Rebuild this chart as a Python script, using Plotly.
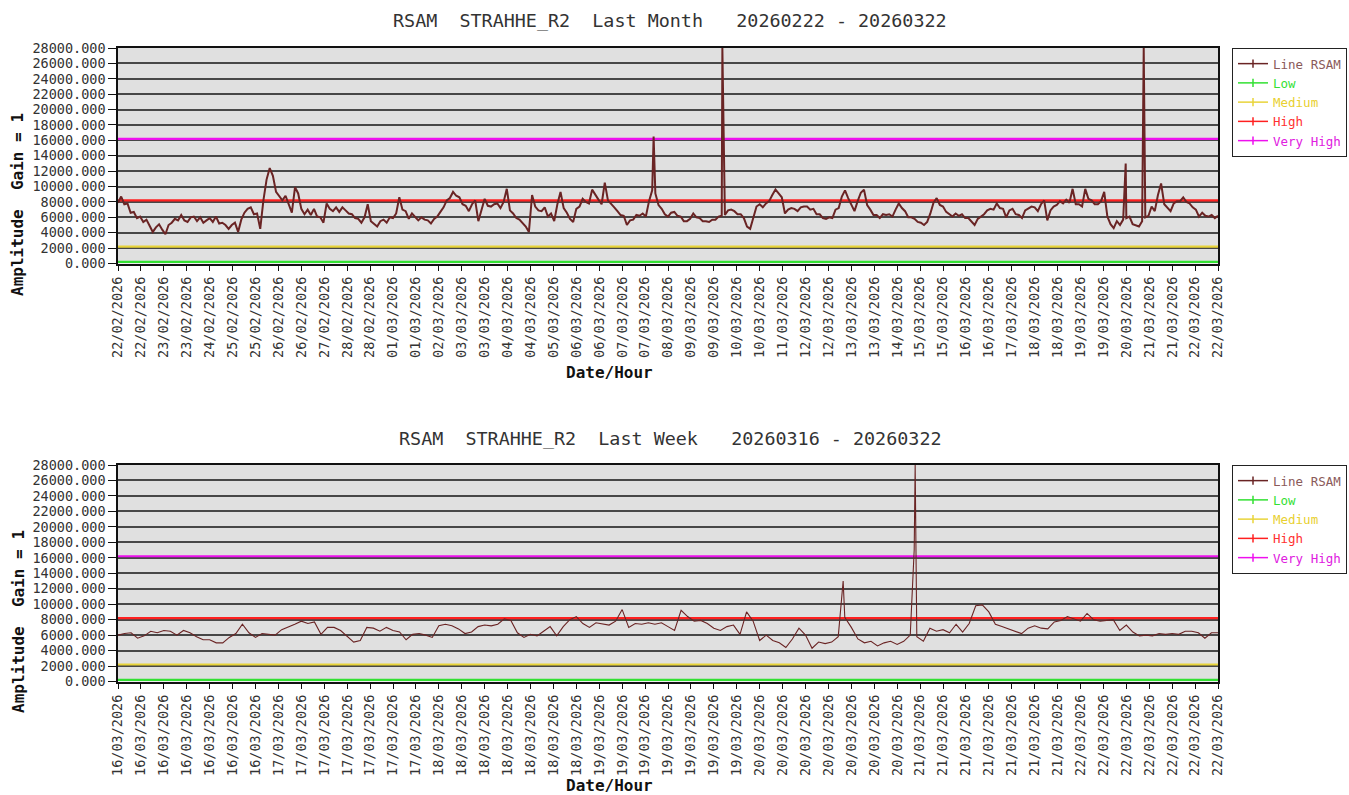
import plotly.graph_objects as go

W, H = 1349, 795

# ---------------- data ----------------
TOP_TITLE = "RSAM  STRAHHE_R2  Last Month   20260222 - 20260322"
BOTTOM_TITLE = "RSAM  STRAHHE_R2  Last Week   20260316 - 20260322"

# Last month: one value every 2 hours from 22/02/2026 00:00 (hours 0..696)
TOP_STEP_H = 2
TOP_RSAM = [
    7900, 8700, 7700, 7800, 6600, 6700, 5900, 6100, 5400, 5700, 4900, 4100,
    4700, 5100, 4400, 3800, 5000, 5300, 5800, 5600, 6300, 5600, 5400, 6000,
    6100, 5500, 6000, 5300, 5600, 5900, 5400, 6100, 5200, 5300, 5000, 4500,
    5000, 5300, 4100, 5700, 6600, 7100, 7300, 6400, 6500, 4500, 8200, 10900,
    12400, 11400, 9300, 8700, 8200, 8800, 7700, 6600, 9900, 9100, 7100, 6400,
    7000, 6300, 7100, 6100, 6000, 5300, 7800, 7100, 6800, 7300, 6700, 7300,
    6900, 6500, 6400, 5900, 5800, 5300, 6000, 7700, 5500, 5100, 4800, 5500,
    5700, 5300, 6000, 5900, 6500, 8600, 7000, 6800, 5800, 6500, 6100, 5600,
    6000, 5700, 5600, 5200, 5800, 6100, 6700, 7300, 8200, 8500, 9300, 8800,
    8600, 7700, 7500, 6800, 7700, 8200, 5500, 6900, 8400, 7500, 7400, 7700,
    7800, 7200, 8000, 9700, 6900, 6500, 5900, 5700, 5300, 4800, 4100, 8900,
    7400, 6900, 6800, 7300, 6100, 6500, 5500, 7700, 9300, 7200, 6600, 5800,
    5400, 7100, 7400, 8400, 8000, 7800, 9600, 8900, 8300, 7700, 10500, 8200,
    7800, 7300, 6800, 6300, 6200, 5000, 5600, 5700, 6300, 6200, 6500, 6100,
    8100, 9500, 9100, 7600, 7100, 6400, 6100, 6600, 6700, 6200, 6100, 5500,
    5500, 5800, 6500, 6000, 5900, 5500, 5500, 5400, 5700, 5700, 6100, 6200,
    6300, 6900, 7000, 6800, 6400, 6400, 5900, 4800, 4500, 5900, 7400, 7700,
    7300, 7800, 8100, 8900, 9600, 9100, 8600, 6500, 7000, 7200, 7100, 6800,
    7300, 7400, 7400, 7000, 7100, 6400, 6400, 5900, 5800, 6000, 5900, 7000,
    7200, 8700, 9500, 8500, 7600, 6800, 8100, 9200, 9600, 7600, 7000, 6300,
    6300, 5900, 6400, 6300, 6400, 6100, 7000, 7800, 7200, 6800, 6000, 6000,
    5800, 5400, 5300, 5000, 5400, 6500, 7900, 8500, 7600, 7400, 6700, 6400,
    6100, 6500, 6200, 6400, 5900, 5900, 5400, 5000, 5800, 6100, 6400, 6900,
    7100, 7000, 7800, 7200, 7100, 6000, 6900, 7100, 6400, 6300, 5900, 6900,
    7200, 7400, 7300, 6800, 7700, 8200, 5600, 6900, 7400, 7600, 8100, 7800,
    8300, 7900, 9700, 7700, 7700, 7400, 9700, 8400, 8200, 7700, 7700, 8100,
    9300, 6100, 5100, 4600, 5500, 5000, 5700, 5900, 6100, 5100, 5000, 4800,
    5500, 6000, 6200, 7400, 6800, 8900, 10400, 7700, 7300, 6800, 7800, 8100,
    8100, 8600, 8000, 7800, 7300, 7000, 6100, 6600, 6200, 6100, 6300, 5900, 6200,
]
# short spikes (hour since start, value)
TOP_SPIKE_HOURS = [338.9, 382.4, 637.6, 649.0]
TOP_SPIKE_VALUES = [16500, 28000, 13000, 28000]

# Last week: one value every hour from 16/03/2026 00:00 (hours 0..168)
BOTTOM_STEP_H = 1
BOTTOM_RSAM = [
    6000, 6200, 6300, 5600, 5900, 6500, 6300, 6600, 6500, 6000, 6600, 6300,
    5800, 5400, 5400, 5000, 5000, 5700, 6200, 7400, 6300, 5700, 6200, 6100,
    6000, 6700, 7000, 7400, 7800, 7500, 7700, 6100, 7000, 7000, 6600, 5900,
    5100, 5300, 7000, 6900, 6500, 7000, 6600, 6400, 5400, 6100, 6200, 6000,
    5700, 7200, 7400, 7200, 6800, 6200, 6400, 7100, 7300, 7200, 7400, 8100,
    7900, 6300, 5700, 6100, 5900, 6500, 7100, 5900, 7100, 8000, 8400, 7500,
    7000, 7600, 7400, 7300, 7800, 9300, 7000, 7500, 7400, 7600, 7400, 7600,
    7100, 6600, 9200, 8400, 7800, 7900, 7500, 6900, 6600, 7100, 7300, 6100,
    9000, 7800, 5300, 6000, 5300, 5000, 4400, 5500, 6900, 6000, 4300, 5100,
    4900, 5100, 5800, 8300, 7000, 5500, 5000, 5200, 4600, 5000, 5200, 4800,
    5200, 6000, 5800, 5200, 6900, 6500, 6700, 6300, 7400, 6400, 7500, 9800,
    9900, 9000, 7400, 7100, 6800, 6500, 6200, 6900, 7200, 6900, 6800, 7700,
    7900, 8400, 8100, 7800, 8800, 8000, 7800, 7900, 8000, 6600, 7300, 6400,
    5900, 6000, 5900, 6200, 6100, 6200, 6100, 6500, 6500, 6300, 5600, 6300, 6300,
]
BOTTOM_SPIKE_HOURS = [110.75, 121.6, 121.75, 121.9]
BOTTOM_SPIKE_VALUES = [13000, 17000, 28000, 17000]

THRESHOLD_NAMES = ["Low", "Medium", "High", "Very High"]
THRESHOLD_VALUES = [200, 2200, 8200, 16200]
THRESHOLD_COLORS = ["#33e033", "#e8d43a", "#ff2020", "#ee10ee"]
THRESHOLD_TEXT_COLORS = ["#33e033", "#e8d030", "#ff3030", "#e020e0"]
RSAM_NAME = "Line RSAM"
RSAM_COLOR = "#6a2424"
RSAM_TEXT_COLOR = "#8a5a5a"

TOP_SPAN_H = 696
BOTTOM_SPAN_H = 168
TOP_TICK_LABELS = [
    "22/02/2026", "22/02/2026", "23/02/2026", "23/02/2026", "24/02/2026",
    "25/02/2026", "25/02/2026", "26/02/2026", "26/02/2026", "27/02/2026",
    "28/02/2026", "28/02/2026", "01/03/2026", "01/03/2026", "02/03/2026",
    "03/03/2026", "03/03/2026", "04/03/2026", "04/03/2026", "05/03/2026",
    "06/03/2026", "06/03/2026", "07/03/2026", "07/03/2026", "08/03/2026",
    "09/03/2026", "09/03/2026", "10/03/2026", "10/03/2026", "11/03/2026",
    "12/03/2026", "12/03/2026", "13/03/2026", "13/03/2026", "14/03/2026",
    "15/03/2026", "15/03/2026", "16/03/2026", "16/03/2026", "17/03/2026",
    "18/03/2026", "18/03/2026", "19/03/2026", "19/03/2026", "20/03/2026",
    "21/03/2026", "21/03/2026", "22/03/2026", "22/03/2026",
]
BOTTOM_TICK_LABELS = (
    ["16/03/2026"] * 7 + ["17/03/2026"] * 7 + ["18/03/2026"] * 7 +
    ["19/03/2026"] * 7 + ["20/03/2026"] * 7 + ["21/03/2026"] * 7 +
    ["22/03/2026"] * 7
)
Y_TICKS = list(range(0, 28001, 2000))

# ---------------- helpers ----------------
MONO = "DejaVu Sans Mono"


def merged_series(step, values, spike_h, spike_v):
    pts = [(i * step, v) for i, v in enumerate(values)]
    pts += list(zip(spike_h, spike_v))
    pts.sort(key=lambda p: p[0])
    return [p[0] for p in pts], [p[1] for p in pts]


def px_x(px):
    return px / W


def px_y(py):
    return 1 - py / H


PLOT_L, PLOT_R = 118, 1218
PANELS = [
    dict(top=48, bottom=263.5, span=TOP_SPAN_H, labels=TOP_TICK_LABELS,
         step=TOP_STEP_H, values=TOP_RSAM, sh=TOP_SPIKE_HOURS, sv=TOP_SPIKE_VALUES,
         title=TOP_TITLE, lw=2.0, xt=372),
    dict(top=465, bottom=681.5, span=BOTTOM_SPAN_H, labels=BOTTOM_TICK_LABELS,
         step=BOTTOM_STEP_H, values=BOTTOM_RSAM, sh=BOTTOM_SPIKE_HOURS,
         sv=BOTTOM_SPIKE_VALUES, title=BOTTOM_TITLE, lw=1.1, xt=785),
]

fig = go.Figure()
annotations = []
layout = {}

for k, p in enumerate(PANELS):
    sfx = "" if k == 0 else str(k + 1)
    xa, ya = "x" + sfx, "y" + sfx
    leg = "legend" + sfx

    # threshold lines
    for name, val, col in zip(THRESHOLD_NAMES, THRESHOLD_VALUES, THRESHOLD_COLORS):
        fig.add_trace(go.Scatter(
            x=[0, p["span"]], y=[val, val], mode="lines",
            line=dict(color=col, width=2.2), showlegend=False,
            xaxis=xa, yaxis=ya, hoverinfo="skip"))

    # RSAM
    hx, hy = merged_series(p["step"], p["values"], p["sh"], p["sv"])
    fig.add_trace(go.Scatter(
        x=hx, y=hy, mode="lines", line=dict(color=RSAM_COLOR, width=p["lw"]),
        showlegend=False, xaxis=xa, yaxis=ya, name=RSAM_NAME))

    # legend entries
    leg_items = [(RSAM_NAME, RSAM_COLOR, RSAM_TEXT_COLOR)] + list(
        zip(THRESHOLD_NAMES, THRESHOLD_COLORS, THRESHOLD_TEXT_COLORS))
    for name, col, tcol in leg_items:
        fig.add_trace(go.Scatter(
            x=[None], y=[None], mode="lines+markers",
            line=dict(color=col, width=1.5),
            marker=dict(symbol="line-ns-open", size=6, color=col,
                        line=dict(color=col, width=1.5)),
            name=f"<span style='color:{tcol}'>{name}</span>",
            xaxis=xa, yaxis=ya, legend=leg, showlegend=True))

    ticks_x = [i * p["span"] / (len(p["labels"]) - 1) for i in range(len(p["labels"]))]
    layout["xaxis" + sfx] = dict(
        domain=[px_x(PLOT_L), px_x(PLOT_R)], anchor=ya, range=[0, p["span"]],
        tickmode="array", tickvals=ticks_x, ticktext=p["labels"], tickangle=-90,
        ticks="outside", ticklen=6, tickwidth=1.2, tickcolor="#111",
        showline=True, linecolor="#111", linewidth=1.5, mirror=True,
        showgrid=False, zeroline=False, automargin=False,
        tickfont=dict(family=MONO, size=13.5, color="#333"))
    layout["yaxis" + sfx] = dict(
        domain=[px_y(p["bottom"]), px_y(p["top"])], anchor=xa, range=[0, 28000],
        tickmode="array", tickvals=Y_TICKS, tickformat=".3f",
        ticks="outside", ticklen=8, tickwidth=1.2, tickcolor="#111",
        showline=True, linecolor="#111", linewidth=1.5, mirror=True,
        showgrid=True, gridcolor="#474747", gridwidth=1.6, zeroline=False,
        automargin=False, tickfont=dict(family=MONO, size=13.5, color="#333"))
    layout[leg] = dict(
        x=px_x(1232), y=px_y(p["top"]), xanchor="left", yanchor="top",
        bgcolor="white", bordercolor="#222", borderwidth=1,
        font=dict(family=MONO, size=12.5), tracegroupgap=0, itemwidth=30)

    # titles
    annotations.append(dict(
        text=p["title"].replace(" ", "\u00a0"), x=px_x(670), y=px_y(p["top"] - 27),
        xref="paper", yref="paper", showarrow=False, xanchor="center", yanchor="middle",
        font=dict(family=MONO, size=18.4, color="#333")))
    annotations.append(dict(
        text="<b>Amplitude\u00a0\u00a0Gain\u00a0=\u00a01</b>", x=px_x(18),
        y=px_y(p["top"] + 157), xref="paper", yref="paper", showarrow=False,
        textangle=-90, xanchor="center", yanchor="middle",
        font=dict(family=MONO, size=16, color="#111")))
    annotations.append(dict(
        text="<b>Date/Hour</b>", x=px_x(609), y=px_y(p["xt"]),
        xref="paper", yref="paper", showarrow=False, xanchor="center",
        yanchor="middle", font=dict(family=MONO, size=16, color="#111")))

fig.update_layout(
    width=W, height=H, margin=dict(l=0, r=0, t=0, b=0),
    paper_bgcolor="white", plot_bgcolor="#e0e0e0",
    annotations=annotations, hovermode=False, **layout)

fig.write_html("out.html")
